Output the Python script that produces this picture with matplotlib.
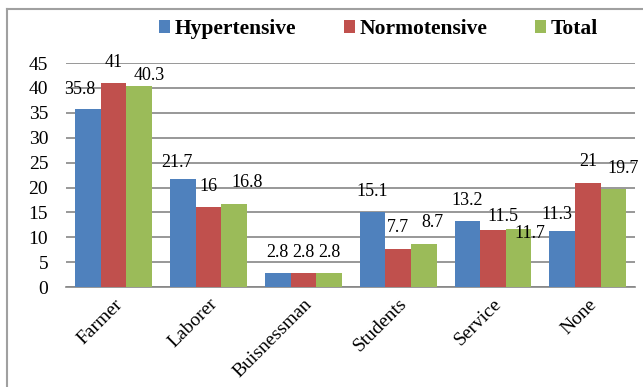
import matplotlib
matplotlib.use('Agg')
import matplotlib.pyplot as plt
import numpy as np

# data
categories = ['Farmer', 'Laborer', 'Buisnessman', 'Students', 'Service', 'None']
hypertensive = [35.8, 21.7, 2.8, 15.1, 13.2, 11.3]
normotensive = [41, 16, 2.8, 7.7, 11.5, 21]
total = [40.3, 16.8, 2.8, 8.7, 11.7, 19.7]
series_names = ['Hypertensive', 'Normotensive', 'Total']
colors = ['#4f81bd', '#c0504d', '#9bbb59']

# hand-placed labels in the original, nudges in points (series, category) -> (dx, dy)
nudges = {(0, 0): (-6, -1), (2, 0): (7, -7), (0, 1): (-4, -3), (2, 1): (9, 0),
          (2, 3): (6, 0), (1, 4): (7, -5), (2, 4): (8, -18), (0, 5): (-4, -3),
          (2, 5): (7, 0)}

plt.rcParams['font.family'] = ['Liberation Serif', 'DejaVu Serif']

fig = plt.figure(figsize=(6.43, 3.87), dpi=100)
ax = fig.add_axes([0.103, 0.258, 0.885, 0.579])

x = np.arange(len(categories))
w = 0.27
for i, vals in enumerate([hypertensive, normotensive, total]):
    pos = x + (i - 1) * w
    ax.bar(pos, vals, w, color=colors[i], label=series_names[i], zorder=3)
    for j, v in enumerate(vals):
        dx, dy = nudges.get((i, j), (0, 0))
        ax.annotate('%g' % v, (pos[j], v), xytext=(dx, 15 + dy), textcoords='offset points',
                    ha='center', va='center', fontsize=13, zorder=4)

ax.set_ylim(0, 45)
ax.set_xlim(-0.5, len(categories) - 0.5)
ax.set_yticks(range(0, 50, 5))
ax.yaxis.grid(True, color='#868686', linewidth=1.2, zorder=0)
ax.set_xticks(x)
ax.set_xticklabels(categories, rotation=45, ha='right', rotation_mode='anchor', fontsize=14)
ax.tick_params(axis='y', labelsize=14, length=0, pad=13)
ax.tick_params(axis='x', length=0, pad=6)
for s in ['top', 'right', 'left']:
    ax.spines[s].set_visible(False)
ax.spines['bottom'].set_color('#868686')
ax.spines['bottom'].set_linewidth(1.2)

leg = fig.legend(loc='center left', bbox_to_anchor=(0.217, 0.925), ncol=3, frameon=False,
                 prop={'weight': 'bold', 'size': 15.5}, handlelength=0.51, handleheight=0.51,
                 handletextpad=0.23, columnspacing=2.2)

# outer frame (left and top edges visible)
fig.add_artist(plt.Line2D([0.011, 0.011], [0, 0.977], color='#a0a0a0', linewidth=1.5))
fig.add_artist(plt.Line2D([0.011, 1], [0.977, 0.977], color='#a0a0a0', linewidth=1.5))

fig.savefig('out.png', dpi=100)
